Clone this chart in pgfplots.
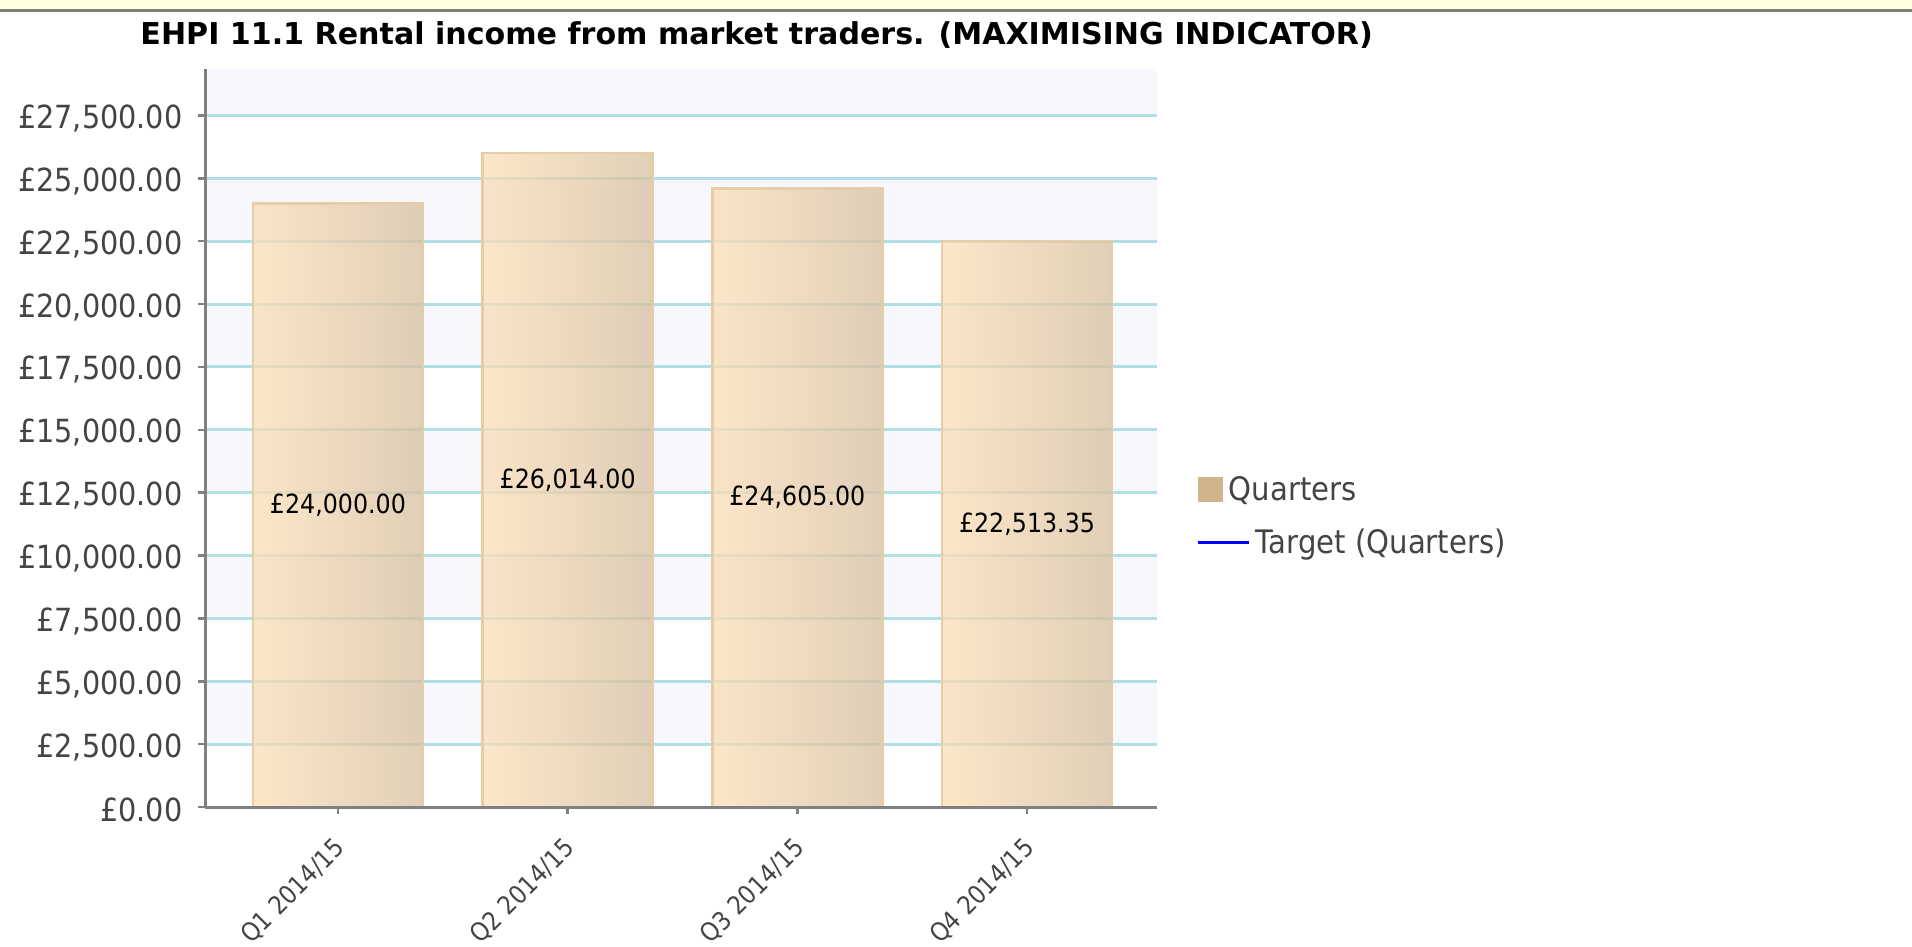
\documentclass[border=0pt]{standalone}
\usepackage{fontspec}
\setmainfont{DejaVu Sans}[FakeStretch=0.9]
\newfontfamily\titlefont{DejaVu Sans}
\usepackage{pgfplots}
\pgfplotsset{compat=1.18}
\definecolor{gridc}{RGB}{176,224,230}
\definecolor{lav}{RGB}{247,248,253}
\definecolor{axisc}{RGB}{128,128,128}
\definecolor{txt}{RGB}{68,68,68}
\definecolor{barL}{RGB}{252,222,182}
\definecolor{barR}{RGB}{214,191,159}
\definecolor{barB}{RGB}{230,205,168}
\definecolor{tanc}{RGB}{210,180,140}
\definecolor{tipy}{RGB}{255,255,225}
\definecolor{tipb}{RGB}{128,128,112}
\pgfplotsset{mybar/.style={ybar, bar width=0.74, bar shift=0pt, draw=barB, line width=2.5bp,
  left color=barL, right color=barR, fill opacity=0.75, draw opacity=1, forget plot},
  band/.style={fill=lav, draw=none, forget plot}}
\begin{document}
\begin{tikzpicture}[x=1bp,y=1bp]
\fill[tipy] (0,0) rectangle (1912,-10);
\draw[tipb, line width=3bp] (0,-10.5) -- (1912,-10.5);
\begin{axis}[
  at={(205bp,-807bp)}, anchor=south west,
  scale only axis, width=952bp, height=738bp,
  axis on top,
  xmin=-0.579, xmax=3.566, ymin=0, ymax=29350,
  axis lines=left,
  axis line style={axisc, line width=3bp, -},
  tick align=outside,
  major tick length=7bp,
  tick style={axisc, line width=2.5bp},
  xtick={0,1,2,3},
  xticklabels={Q1 2014/15, Q2 2014/15, Q3 2014/15, Q4 2014/15},
  xticklabel style={inner sep=0pt, font=\fontsize{25.5}{30}\selectfont, text=txt,
    xshift=-5bp, yshift=-22bp, rotate=45, anchor=north east},
  ytick={0,2500,5000,7500,10000,12500,15000,17500,20000,22500,25000,27500},
  scaled y ticks=false,
  /pgf/number format/assume math mode=true,
  yticklabel={£\pgfmathprintnumber[fixed,fixed zerofill,precision=2,1000 sep={,}]{\tick}},
  yticklabel style={font=\fontsize{32}{38}\selectfont, text=txt, xshift=-12bp, yshift=-3bp},
  unbounded coords=jump,
  title={EHPI 11.1 Rental income from market traders. (MAXIMISING INDICATOR)},
  title style={at={(axis description cs:-0.068,1.025)}, anchor=base west,
    font=\titlefont\bfseries\fontsize{30.2}{36}\selectfont, text=black, inner sep=0pt},
  legend style={at={(axis description cs:1.041,0.3946)}, anchor=west, draw=none, fill=none,
    font=\fontsize{32.5}{38}\selectfont, text=txt, inner sep=0pt, row sep=23bp},
  legend cell align=left,
]
% alternating background bands
\addplot[band] coordinates {(-0.579,2500) (3.566,2500) (3.566,5000) (-0.579,5000)};
\addplot[band] coordinates {(-0.579,7500) (3.566,7500) (3.566,10000) (-0.579,10000)};
\addplot[band] coordinates {(-0.579,12500) (3.566,12500) (3.566,15000) (-0.579,15000)};
\addplot[band] coordinates {(-0.579,17500) (3.566,17500) (3.566,20000) (-0.579,20000)};
\addplot[band] coordinates {(-0.579,22500) (3.566,22500) (3.566,25000) (-0.579,25000)};
\addplot[band] coordinates {(-0.579,27500) (3.566,27500) (3.566,29350) (-0.579,29350)};
% horizontal grid lines
\addplot[gridc, line width=3bp, forget plot] coordinates {
  (-0.579,2500) (3.566,2500) (0,nan)
  (-0.579,5000) (3.566,5000) (0,nan)
  (-0.579,7500) (3.566,7500) (0,nan)
  (-0.579,10000) (3.566,10000) (0,nan)
  (-0.579,12500) (3.566,12500) (0,nan)
  (-0.579,15000) (3.566,15000) (0,nan)
  (-0.579,17500) (3.566,17500) (0,nan)
  (-0.579,20000) (3.566,20000) (0,nan)
  (-0.579,22500) (3.566,22500) (0,nan)
  (-0.579,25000) (3.566,25000) (0,nan)
  (-0.579,27500) (3.566,27500)};
% bars (Quarters)
\addplot[mybar] coordinates {(0,24000)};
\addplot[mybar] coordinates {(1,26014)};
\addplot[mybar] coordinates {(2,24605)};
\addplot[mybar] coordinates {(3,22513.35)};
% value labels at mid-height of each bar
\addplot[draw=none, forget plot, nodes near coords, point meta=explicit symbolic,
  nodes near coords style={anchor=center, font=\fontsize{26.5}{30}\selectfont, text=black}]
  coordinates {(0,12000) [£24,000.00] (1,13007) [£26,014.00] (2,12302.5) [£24,605.00] (3,11256.675) [£22,513.35]};
% legend
\addlegendimage{legend image code/.code={\fill[tanc] (0bp,-12bp) rectangle (24bp,12bp);}}
\addlegendentry{\hspace*{-27bp}Quarters}
\addlegendimage{legend image code/.code={\draw[blue, line width=3bp] (0bp,0bp) -- (51bp,0bp); \path (56bp,0bp);}}
\addlegendentry{Target (Quarters)}
\end{axis}
\pgfresetboundingbox
\useasboundingbox (0,0) rectangle (1912,-947);
\end{tikzpicture}
\end{document}
